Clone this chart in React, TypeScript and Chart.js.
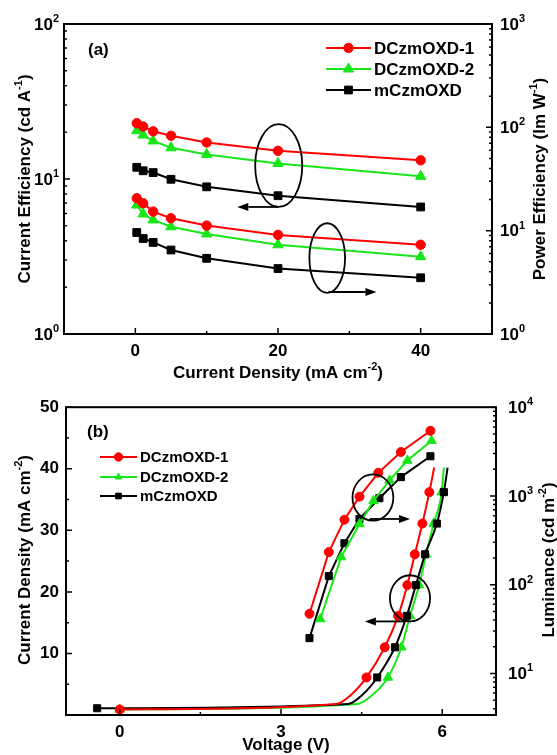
import React, { useEffect, useRef } from "react";
import { Chart, registerables } from "chart.js";
Chart.register(...registerables);

const FONT = '"Liberation Sans", Arial, Helvetica, sans-serif';
const RED = "#ff0000";
const GREEN = "#19e619";
const BLACK = "#000000";

const seriesNames = ["DCzmOXD-1", "DCzmOXD-2", "mCzmOXD"];

// ---------- panel (a) ----------
const densityA = [0.2, 1.1, 2.5, 5, 10, 20, 40];
const ceRed = [22.9, 21.8, 20.3, 19.0, 17.2, 15.2, 13.2];
const ceGreen = [20.5, 19.2, 17.6, 15.9, 14.4, 12.6, 10.4];
const ceBlack = [11.9, 11.3, 11.0, 9.96, 8.9, 7.8, 6.6];
const peRed = [20.6, 18.4, 15.3, 13.2, 11.2, 9.1, 7.3];
const peGreen = [17.7, 14.5, 12.7, 10.9, 9.3, 7.3, 5.6];
const peBlack = [9.6, 8.4, 7.7, 6.5, 5.4, 4.3, 3.5];
const xTicksA = [0, 20, 40];
const ceTicks = [1, 10, 100];
const peTicks = [1, 10, 100, 1000];

// ---------- panel (b) ----------
const jvRedV = [0, 4.03, 4.32, 4.59, 4.93, 5.18, 5.35, 5.49, 5.63, 5.76, 5.85];
const jvRedJ = [0.9, 1.8, 3.4, 6.1, 11.0, 16.1, 21.1, 26.1, 31.1, 36.2, 40.2];
const jvGreenV = [0, 4.42, 4.72, 4.99, 5.24, 5.4, 5.57, 5.7, 5.84, 5.99, 6.03];
const jvGreenJ = [0.9, 1.8, 3.4, 6.1, 11.0, 16.1, 21.1, 26.1, 31.1, 36.2, 40.2];
const jvBlackV = [-0.42, 4.25, 4.53, 4.79, 5.12, 5.34, 5.51, 5.68, 5.9, 6.03, 6.1];
const jvBlackJ = [1.1, 1.8, 3.4, 6.1, 11.0, 16.1, 21.1, 26.1, 31.1, 36.2, 40.2];
const lvRedV = [3.53, 3.89, 4.18, 4.46, 4.81, 5.23, 5.78];
const lvRedL = [47, 233, 540, 981, 1820, 3126, 5420];
const lvGreenV = [3.73, 4.12, 4.46, 4.72, 5.02, 5.35, 5.8];
const lvGreenL = [41, 205, 483, 879, 1496, 2506, 4190];
const lvBlackV = [3.53, 3.89, 4.18, 4.46, 4.83, 5.23, 5.78];
const lvBlackL = [25, 125, 293, 550, 942, 1630, 2800];
const xTicksB = [0, 3, 6];
const jTicks = [10, 20, 30, 40, 50];
const lumTicks = [10, 100, 1000, 10000];

// annotations (data coordinates)
const annA = [
  { kind: "ellipse", x: 20.1, xHalf: 3.3, yTop: 22.6, yBottom: 6.6, axis: "yL" },
  { kind: "arrow", x1: 20.0, x2: 14.3, y: 6.6, axis: "yL" },
  { kind: "ellipse", x: 26.9, xHalf: 2.5, yTop: 11.8, yBottom: 2.5, axis: "yR" },
  { kind: "arrow", x1: 27.1, x2: 33.8, y: 2.55, axis: "yR" },
];
const annB = [
  { kind: "ellipse", x: 4.71, xHalf: 0.38, yTop: 1746, yBottom: 526, axis: "yR" },
  { kind: "arrow", x1: 4.65, x2: 5.4, y: 550, axis: "yR" },
  { kind: "ellipse", x: 5.4, xHalf: 0.373, yTop: 22.7, yBottom: 15.2, axis: "yL" },
  { kind: "arrow", x1: 5.3, x2: 4.56, y: 15.2, axis: "yL" },
];

type Part = { t: string; sup?: boolean };

function drawRich(
  ctx: CanvasRenderingContext2D,
  parts: Part[],
  cx: number,
  cy: number,
  rot: number,
  size: number,
  align: "center" | "left" | "right" = "center"
) {
  const base = `bold ${size}px ${FONT}`;
  const supF = `bold ${Math.round(size * 0.62)}px ${FONT}`;
  const widths = parts.map((p) => {
    ctx.font = p.sup ? supF : base;
    return ctx.measureText(p.t).width;
  });
  const total = widths.reduce((a, b) => a + b, 0);
  ctx.save();
  ctx.translate(cx, cy);
  ctx.rotate(rot);
  ctx.textBaseline = "middle";
  ctx.textAlign = "left";
  ctx.fillStyle = "#000";
  let x = align === "center" ? -total / 2 : align === "right" ? -total : 0;
  parts.forEach((p, i) => {
    ctx.font = p.sup ? supF : base;
    ctx.fillText(p.t, x, p.sup ? -size * 0.36 : 0);
    x += widths[i];
  });
  ctx.restore();
}

function drawMarker(ctx: CanvasRenderingContext2D, style: string, x: number, y: number, r: number, color: string) {
  ctx.save();
  ctx.fillStyle = color;
  ctx.strokeStyle = color;
  ctx.lineWidth = 1;
  ctx.beginPath();
  if (style === "circle") {
    ctx.arc(x, y, r, 0, Math.PI * 2);
  } else if (style === "triangle") {
    let rad = 0;
    ctx.moveTo(x + Math.sin(rad) * r, y - Math.cos(rad) * r);
    rad += (2 * Math.PI) / 3;
    ctx.lineTo(x + Math.sin(rad) * r, y - Math.cos(rad) * r);
    rad += (2 * Math.PI) / 3;
    ctx.lineTo(x + Math.sin(rad) * r, y - Math.cos(rad) * r);
    ctx.closePath();
  } else {
    const s = Math.SQRT1_2 * r;
    ctx.rect(x - s, y - s, 2 * s, 2 * s);
  }
  ctx.fill();
  ctx.stroke();
  ctx.restore();
}

type AxisTicks = { id: string; kind: "log" | "lin"; step?: number; majors: number[]; logLabelPad?: number };

function makeDecor(cfg: {
  x: AxisTicks;
  left: AxisTicks;
  right: AxisTicks;
  titles: { parts: Part[]; cx: number; cy: number; rot: number }[];
  legend: { x1: number; x2: number; tx: number; ys: number[]; size: number; radii: number[] };
  label: { text: string; x: number; y: number };
  ann: any[];
}) {
  return {
    id: "decor",
    afterDraw(chart: any) {
      const ctx: CanvasRenderingContext2D = chart.ctx;
      const { left, right, top, bottom } = chart.chartArea;
      const MAJ = 6,
        MIN = 3;
      ctx.save();
      ctx.strokeStyle = "#000";
      ctx.lineWidth = 1.5;
      const tickVals = (a: AxisTicks, scale: any) => {
        const out: { v: number; major: boolean }[] = [];
        if (a.kind === "log") {
          const d0 = Math.floor(Math.log10(scale.min));
          const d1 = Math.ceil(Math.log10(scale.max));
          for (let d = d0; d <= d1; d++)
            for (let m = 1; m <= 9; m++) {
              const v = m * Math.pow(10, d);
              if (v >= scale.min * 0.9999 && v <= scale.max * 1.0001) out.push({ v, major: m === 1 });
            }
        } else {
          const st = a.step as number;
          for (let v = Math.ceil(scale.min / st) * st; v <= scale.max + 1e-9; v += st) {
            out.push({ v, major: a.majors.some((m) => Math.abs(m - v) < 1e-6) });
          }
        }
        return out;
      };
      const xs = chart.scales[cfg.x.id];
      ctx.beginPath();
      tickVals(cfg.x, xs).forEach((t) => {
        const p = xs.getPixelForValue(t.v);
        ctx.moveTo(p, bottom);
        ctx.lineTo(p, bottom - (t.major ? MAJ : MIN));
      });
      const ls = chart.scales[cfg.left.id];
      tickVals(cfg.left, ls).forEach((t) => {
        const p = ls.getPixelForValue(t.v);
        ctx.moveTo(left, p);
        ctx.lineTo(left + (t.major ? MAJ : MIN), p);
      });
      const rs = chart.scales[cfg.right.id];
      tickVals(cfg.right, rs).forEach((t) => {
        const p = rs.getPixelForValue(t.v);
        ctx.moveTo(right, p);
        ctx.lineTo(right - (t.major ? MAJ : MIN), p);
      });
      ctx.stroke();
      ctx.lineWidth = 2;
      ctx.strokeRect(left, top, right - left, bottom - top);
      // log tick labels "10" with superscript exponent
      [
        { a: cfg.left, s: ls, side: "left" },
        { a: cfg.right, s: rs, side: "right" },
      ].forEach(({ a, s, side }) => {
        if (a.kind !== "log") return;
        s.ticks.forEach((t: any) => {
          const p = s.getPixelForValue(t.value);
          const e = String(Math.round(Math.log10(t.value)));
          const pad = a.logLabelPad || 6;
          if (side === "left") drawRich(ctx, [{ t: "10" }, { t: e, sup: true }], left - pad, p + 1, 0, 17, "right");
          else drawRich(ctx, [{ t: "10" }, { t: e, sup: true }], right + pad, p + 1, 0, 17, "left");
        });
      });
      // annotations
      ctx.lineWidth = 1.8;
      ctx.strokeStyle = "#000";
      cfg.ann.forEach((a) => {
        const ys = chart.scales[a.axis];
        if (a.kind === "ellipse") {
          const cx = xs.getPixelForValue(a.x);
          const rx = Math.abs(xs.getPixelForValue(a.x + a.xHalf) - cx);
          const yt = ys.getPixelForValue(a.yTop);
          const yb = ys.getPixelForValue(a.yBottom);
          ctx.beginPath();
          ctx.ellipse(cx, (yt + yb) / 2, rx, Math.abs(yb - yt) / 2, 0, 0, Math.PI * 2);
          ctx.stroke();
        } else {
          const x1 = xs.getPixelForValue(a.x1);
          const x2 = xs.getPixelForValue(a.x2);
          const y = ys.getPixelForValue(a.y);
          const dir = x2 > x1 ? 1 : -1;
          const hl = 11,
            hw = 4;
          ctx.beginPath();
          ctx.moveTo(x1, y);
          ctx.lineTo(x2 - dir * hl, y);
          ctx.stroke();
          ctx.beginPath();
          ctx.moveTo(x2, y);
          ctx.lineTo(x2 - dir * hl, y - hw);
          ctx.lineTo(x2 - dir * hl, y + hw);
          ctx.closePath();
          ctx.fillStyle = "#000";
          ctx.fill();
        }
      });
      // legend
      const lg = cfg.legend;
      const colors = [RED, GREEN, BLACK];
      const styles = ["circle", "triangle", "rect"];
      lg.ys.forEach((y, i) => {
        ctx.strokeStyle = colors[i];
        ctx.lineWidth = 2;
        ctx.beginPath();
        ctx.moveTo(lg.x1, y);
        ctx.lineTo(lg.x2, y);
        ctx.stroke();
        drawMarker(ctx, styles[i], (lg.x1 + lg.x2) / 2, y, lg.radii[i], colors[i]);
        ctx.fillStyle = "#000";
        ctx.font = `bold ${lg.size}px ${FONT}`;
        ctx.textAlign = "left";
        ctx.textBaseline = "middle";
        ctx.fillText(seriesNames[i], lg.tx, y + 1);
      });
      ctx.fillStyle = "#000";
      ctx.font = `bold 17px ${FONT}`;
      ctx.textAlign = "left";
      ctx.textBaseline = "middle";
      ctx.fillText(cfg.label.text, cfg.label.x, cfg.label.y);
      ctx.restore();
      cfg.titles.forEach((t) => drawRich(ctx, t.parts, t.cx, t.cy, t.rot, 17));
    },
  };
}

const tickFont = { family: FONT, size: 17, weight: "bold" as const };

function pts(xs: number[], ys: number[]) {
  return xs.map((x, i) => ({ x, y: ys[i] }));
}

function ds(label: string, data: any[], color: string, style: string, r: any, axis: string, extra: any = {}) {
  return {
    label,
    data,
    borderColor: color,
    backgroundColor: color,
    pointBackgroundColor: color,
    pointBorderColor: color,
    pointBorderWidth: 1,
    pointStyle: style,
    pointRadius: r,
    pointHoverRadius: r,
    borderWidth: 2,
    yAxisID: axis,
    fill: false,
    tension: 0,
    ...extra,
  };
}

function fixedTicks(vals: number[]) {
  return (s: any) => {
    s.ticks = vals.map((v) => ({ value: v }));
  };
}

const hiddenLabel = () => "";

function buildA(): any {
  const W = 557,
    H = 385;
  const LW = 64,
    RW = 65,
    XH = 51,
    TOP = 24;
  return {
    type: "line",
    data: {
      datasets: [
        ds(seriesNames[0], pts(densityA, ceRed), RED, "circle", 4.7, "yL"),
        ds(seriesNames[1], pts(densityA, ceGreen), GREEN, "triangle", 6, "yL"),
        ds(seriesNames[2], pts(densityA, ceBlack), BLACK, "rect", 5.5, "yL"),
        ds(seriesNames[0], pts(densityA, peRed), RED, "circle", 4.7, "yR"),
        ds(seriesNames[1], pts(densityA, peGreen), GREEN, "triangle", 6, "yR"),
        ds(seriesNames[2], pts(densityA, peBlack), BLACK, "rect", 5.5, "yR"),
      ],
    },
    options: {
      animation: false,
      responsive: false,
      maintainAspectRatio: false,
      events: [],
      layout: { padding: { top: TOP, left: 0, right: 0, bottom: 0 } },
      plugins: { legend: { display: false }, tooltip: { enabled: false } },
      scales: {
        x: {
          type: "linear",
          position: "bottom",
          min: -10,
          max: 50,
          afterBuildTicks: fixedTicks(xTicksA),
          afterFit: (s: any) => {
            s.height = XH;
          },
          grid: { display: false, drawTicks: false },
          border: { display: false },
          ticks: { font: tickFont, color: "#000", padding: 7, maxRotation: 0, autoSkip: false },
        },
        yL: {
          type: "logarithmic",
          position: "left",
          min: 1,
          max: 100,
          afterBuildTicks: fixedTicks(ceTicks),
          afterFit: (s: any) => {
            s.width = LW;
          },
          grid: { display: false, drawTicks: false },
          border: { display: false },
          ticks: { font: tickFont, color: "#000", padding: 5, autoSkip: false, callback: hiddenLabel },
        },
        yR: {
          type: "logarithmic",
          position: "right",
          min: 1,
          max: 1000,
          afterBuildTicks: fixedTicks(peTicks),
          afterFit: (s: any) => {
            s.width = RW;
          },
          grid: { display: false, drawTicks: false },
          border: { display: false },
          ticks: { font: tickFont, color: "#000", padding: 8, autoSkip: false, callback: hiddenLabel },
        },
      },
    },
    plugins: [
      makeDecor({
        x: { id: "x", kind: "lin", step: 10, majors: xTicksA },
        left: { id: "yL", kind: "log", majors: ceTicks, logLabelPad: 5 },
        right: { id: "yR", kind: "log", majors: peTicks, logLabelPad: 8 },
        titles: [
          { parts: [{ t: "Current Efficiency (cd A" }, { t: "-1", sup: true }, { t: ")" }], cx: 25, cy: (TOP + H - XH) / 2, rot: -Math.PI / 2 },
          { parts: [{ t: "Power Efficiency (lm W" }, { t: "-1", sup: true }, { t: ")" }], cx: 540, cy: (TOP + H - XH) / 2, rot: -Math.PI / 2 },
          { parts: [{ t: "Current Density (mA cm" }, { t: "-2", sup: true }, { t: ")" }], cx: (LW + W - RW) / 2, cy: 373, rot: 0 },
        ],
        legend: { x1: 326, x2: 371, tx: 374, ys: [48, 69, 90], size: 17, radii: [4.7, 6, 5.5] },
        label: { text: "(a)", x: 88, y: 50 },
        ann: annA,
      }),
    ],
  };
}

function buildB(): any {
  const H = 370;
  const LW = 66,
    RW = 61,
    XH = 40,
    TOP = 20;
  const jvR = (r: number) => (c: any) => {
    const p = c.raw;
    if (!p) return 0;
    return p.x <= 0 || (p.y > 4 && p.y < 38) ? r : 0;
  };
  const mono = { cubicInterpolationMode: "monotone" };
  return {
    type: "line",
    data: {
      datasets: [
        ds(seriesNames[0], pts(jvRedV, jvRedJ), RED, "circle", jvR(4.5), "yL", mono),
        ds(seriesNames[2], pts(jvBlackV, jvBlackJ), BLACK, "rect", jvR(5), "yL", mono),
        ds(seriesNames[1], pts(jvGreenV, jvGreenJ), GREEN, "triangle", jvR(5.5), "yL", mono),
        ds(seriesNames[0], pts(lvRedV, lvRedL), RED, "circle", 4.5, "yR"),
        ds(seriesNames[1], pts(lvGreenV, lvGreenL), GREEN, "triangle", 5.5, "yR"),
        ds(seriesNames[2], pts(lvBlackV, lvBlackL), BLACK, "rect", 5, "yR"),
      ],
    },
    options: {
      animation: false,
      responsive: false,
      maintainAspectRatio: false,
      events: [],
      layout: { padding: { top: TOP, left: 0, right: 0, bottom: 0 } },
      plugins: { legend: { display: false }, tooltip: { enabled: false } },
      scales: {
        x: {
          type: "linear",
          position: "bottom",
          min: -1,
          max: 7,
          afterBuildTicks: fixedTicks(xTicksB),
          afterFit: (s: any) => {
            s.height = XH;
          },
          grid: { display: false, drawTicks: false },
          border: { display: false },
          ticks: { font: tickFont, color: "#000", padding: 7, maxRotation: 0, autoSkip: false },
        },
        yL: {
          type: "linear",
          position: "left",
          min: 0,
          max: 50,
          afterBuildTicks: fixedTicks(jTicks),
          afterFit: (s: any) => {
            s.width = LW;
          },
          grid: { display: false, drawTicks: false },
          border: { display: false },
          ticks: { font: tickFont, color: "#000", padding: 7, autoSkip: false },
        },
        yR: {
          type: "logarithmic",
          position: "right",
          min: 3.4,
          max: 10000,
          afterBuildTicks: fixedTicks(lumTicks),
          afterFit: (s: any) => {
            s.width = RW;
          },
          grid: { display: false, drawTicks: false },
          border: { display: false },
          ticks: { font: tickFont, color: "#000", padding: 12, autoSkip: false, callback: hiddenLabel },
        },
      },
    },
    plugins: [
      makeDecor({
        x: { id: "x", kind: "lin", step: 1.5, majors: xTicksB },
        left: { id: "yL", kind: "lin", step: 5, majors: jTicks },
        right: { id: "yR", kind: "log", majors: lumTicks, logLabelPad: 12 },
        titles: [
          { parts: [{ t: "Current Density (mA cm" }, { t: "-2", sup: true }, { t: ")" }], cx: 25, cy: (TOP + H - XH) / 2, rot: -Math.PI / 2 },
          { parts: [{ t: "Luminance (cd m" }, { t: "-2", sup: true }, { t: ")" }], cx: 549, cy: (TOP + H - XH) / 2, rot: -Math.PI / 2 },
          { parts: [{ t: "Voltage (V)" }], cx: 286, cy: 360, rot: 0 },
        ],
        legend: { x1: 100, x2: 137, tx: 140, ys: [72, 92, 111], size: 15, radii: [4.2, 4, 4] },
        label: { text: "(b)", x: 87, y: 47 },
        ann: annB,
      }),
    ],
  };
}

export default function App() {
  const refA = useRef<HTMLCanvasElement>(null);
  const refB = useRef<HTMLCanvasElement>(null);
  useEffect(() => {
    const a = new Chart(refA.current as HTMLCanvasElement, buildA());
    const b = new Chart(refB.current as HTMLCanvasElement, buildB());
    return () => {
      a.destroy();
      b.destroy();
    };
  }, []);
  return (
    <div style={{ position: "fixed", left: 0, top: 0, width: 557, height: 755, background: "#fff" }}>
      <canvas ref={refA} width={557} height={385} style={{ position: "absolute", left: 0, top: 0, width: 557, height: 385 }} />
      <canvas ref={refB} width={557} height={370} style={{ position: "absolute", left: 0, top: 385, width: 557, height: 370 }} />
    </div>
  );
}
